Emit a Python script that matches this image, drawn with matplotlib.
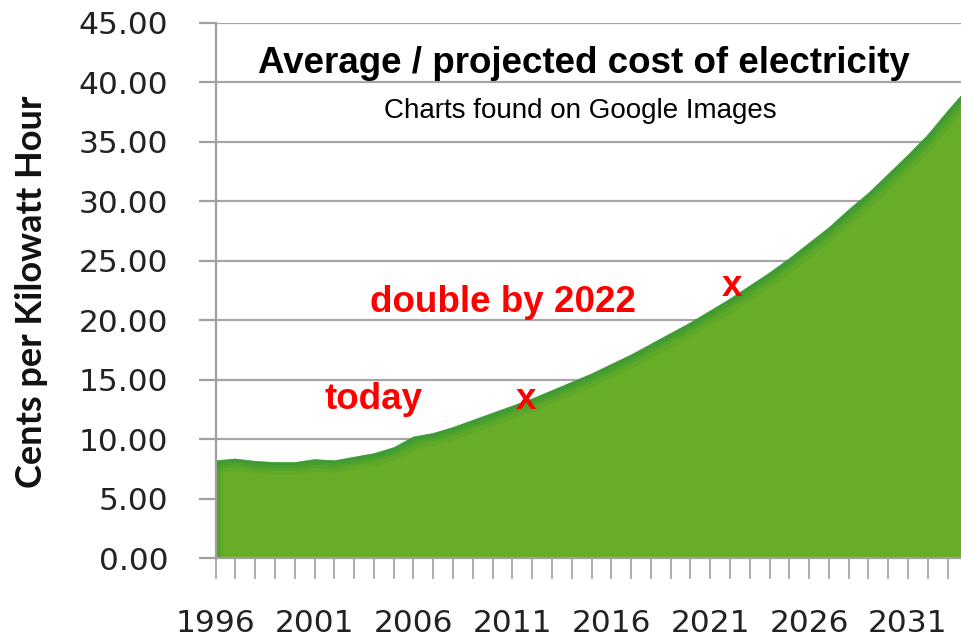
import matplotlib
matplotlib.use("Agg")
import matplotlib.pyplot as plt
from matplotlib.ticker import MultipleLocator, FormatStrFormatter

# average / projected cost, cents per kWh
years = [1996, 1997, 1998, 1999, 2000, 2001, 2002, 2003, 2004, 2005,
         2006, 2007, 2008, 2009, 2010, 2011, 2012, 2013, 2014, 2015,
         2016, 2017, 2018, 2019, 2020, 2021, 2022, 2023, 2024, 2025,
         2026, 2027, 2028, 2029, 2030, 2031, 2032, 2033, 2034]
cost = [8.2, 8.35, 8.15, 8.05, 8.05, 8.3, 8.2, 8.5, 8.8, 9.3,
        10.2, 10.5, 11.0, 11.6, 12.2, 12.8, 13.4, 14.1, 14.8, 15.5,
        16.3, 17.1, 18.0, 18.9, 19.8, 20.8, 21.8, 22.9, 24.0, 25.2,
        26.5, 27.8, 29.3, 30.7, 32.3, 33.9, 35.6, 37.6, 39.5]
label_years = list(range(1996, 2033, 5))
marks = [(2011.7, 13.3), (2022.1, 22.8)]

fill_col = "#68ad27"
edge_col = "#3b9a33"
tick_font = "DejaVu Sans"

fig = plt.figure(figsize=(9.61, 6.37), dpi=100)
ax = fig.add_axes([215.7 / 961, 79 / 637, 1 - 215.7 / 961, 535 / 637])

ax.set_xlim(1996, 2033.68)
ax.set_ylim(0, 45)

poly = ax.fill_between(years, cost, 0, color=fill_col, lw=0, zorder=2)
clip = poly.get_paths()[0]
# soft darker band along the top edge
for lw, a in [(18, 0.2), (12, 0.3), (8, 0.45), (4, 0.75)]:
    ln, = ax.plot(years, cost, color=edge_col, lw=lw, alpha=a, zorder=3,
                  solid_capstyle="butt")
    ln.set_clip_path(clip, poly.get_transform())
# and a slight one on the left edge
for lw, a in [(10, 0.2), (5, 0.35)]:
    ln, = ax.plot([years[0], years[0]], [0, cost[0]], color=edge_col, lw=lw,
                  alpha=a, zorder=3, solid_capstyle="butt")
    ln.set_clip_path(clip, poly.get_transform())

ax.yaxis.set_major_locator(MultipleLocator(5))
ax.yaxis.set_major_formatter(FormatStrFormatter("%.2f"))
ax.grid(axis="y", color="#a6a6a6", lw=1.6, zorder=0)
ax.set_axisbelow(True)

ax.set_xticks(label_years)
ax.set_xticklabels([str(y) for y in label_years])
ax.xaxis.set_minor_locator(MultipleLocator(1))

for s in ["top", "right"]:
    ax.spines[s].set_visible(False)
for s in ["left", "bottom"]:
    ax.spines[s].set_color("#a0a0a0")
    ax.spines[s].set_linewidth(1.6)
    ax.spines[s].set_zorder(4)

ax.tick_params(axis="y", length=12, width=1.6, color="#a0a0a0", pad=22,
               labelsize=22.5, labelcolor="#222222")
ax.tick_params(axis="x", which="both", length=15, width=1.2, color="#a0a0a0")
ax.tick_params(axis="x", pad=21.5, labelsize=22.5, labelcolor="#222222")
for t in ax.get_xticklabels() + ax.get_yticklabels():
    t.set_fontfamily(tick_font)

fig.text(32 / 961, 1 - 292 / 637, "Cents per Kilowatt Hour", rotation=90,
         ha="center", va="center", fontsize=26, fontweight="bold",
         family="Lato", color="#111111")

ax.text(2014.6, 41.6, "Average / projected cost of electricity", ha="center",
        va="center", fontsize=26.5, fontweight="bold", family="Liberation Sans",
        zorder=5)
ax.text(2014.45, 37.6, "Charts found on Google Images", ha="center",
        va="center", fontsize=20, family="Liberation Sans", zorder=5)

ax.text(2004.0, 13.3, "today", ha="center", va="center", fontsize=26.5,
        fontweight="bold", color="red", family="Liberation Sans", zorder=5)
ax.text(2010.5, 21.5, "double by 2022", ha="center", va="center",
        fontsize=26.5, fontweight="bold", color="red", family="Liberation Sans",
        zorder=5)
for mx, my in marks:
    ax.text(mx, my, "x", ha="center", va="center", fontsize=26.5,
            fontweight="bold", color="red", family="Liberation Sans", zorder=5)

fig.savefig("out.png", dpi=100)
